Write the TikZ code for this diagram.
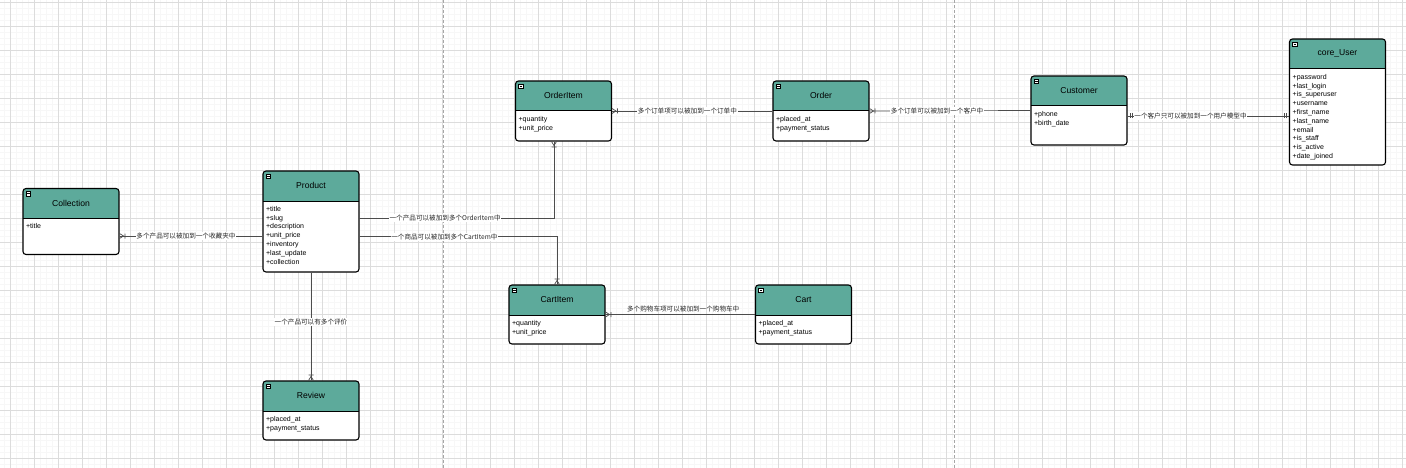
\documentclass[tikz,border=0pt]{standalone}
\usepackage{fontspec}
\setmainfont{Liberation Sans}
\newfontfamily\cjk{Noto Sans CJK SC}
\definecolor{headfill}{HTML}{5DAA9B}
\definecolor{gridmajor}{HTML}{DCDCDC}
\definecolor{gridminor}{HTML}{F7F7F7}

\begin{document}
\begin{tikzpicture}[x=1pt, y=-1pt,
  entity/.style={draw, rounded corners=3pt, line width=1.1pt, fill=white,
    minimum width=96pt, inner sep=0pt,
    path picture={
      \fill[headfill, sharp corners] (path picture bounding box.north west) rectangle ([yshift=-30pt]path picture bounding box.north east);
      \draw[line width=1pt, sharp corners] ([yshift=-30pt]path picture bounding box.north west) -- ([yshift=-30pt]path picture bounding box.north east);
      \draw[fill=white, line width=0.4pt, sharp corners] ([xshift=3pt,yshift=-3pt]path picture bounding box.north west) rectangle ++(4.5pt,-4.5pt);
      \draw[line width=0.6pt] ([xshift=4pt,yshift=-5.25pt]path picture bounding box.north west) -- ++(2.5pt,0pt);
    }},
  enttitle/.style={inner sep=0pt, font=\fontsize{8.6}{10}\selectfont},
  attrs/.style={anchor=north west, align=left, inner sep=0pt, font=\fontsize{7}{8.8}\selectfont},
  conn/.style={draw=black!70, line width=0.7pt},
  rel/.style={font=\cjk\fontsize{6.6}{8}\selectfont, fill=white, inner sep=0.8pt, text=black!85},
  many/.pic={\draw[conn] (0pt,2.5pt) -- (4pt,0pt) -- (0pt,-2.5pt) (5.5pt,2.5pt) -- (5.5pt,-2.5pt);},
  one/.pic={\draw[conn] (2.5pt,2.5pt) -- (2.5pt,-2.5pt) (4.5pt,2.5pt) -- (4.5pt,-2.5pt);}
]
\useasboundingbox (0,0) rectangle (1406,468);

% background grid
\foreach \gx in {4,10,...,1406} \draw[gridminor, line width=0.4pt] (\gx,0) -- (\gx,468);
\foreach \gy in {2,8,...,468} \draw[gridminor, line width=0.4pt] (0,\gy) -- (1406,\gy);
\foreach \gx in {10,34,...,1406} \draw[gridmajor, line width=0.5pt] (\gx,0) -- (\gx,468);
\foreach \gy in {2,26,...,468} \draw[gridmajor, line width=0.5pt] (0,\gy) -- (1406,\gy);
\draw[black!35, dash pattern=on 3pt off 2pt, line width=0.6pt] (443,0) -- (443,468);
\draw[black!35, dash pattern=on 3pt off 2pt, line width=0.6pt] (954,0) -- (954,468);

% entities
\node[entity, minimum height=66pt] (collection) at (71,221.5) {};
\node[enttitle] (collection-title) at ([yshift=-15pt]collection.north) {Collection};
\node[attrs] (collection-attrs) at ([xshift=3.5pt,yshift=-35.5pt]collection.north west) {+title};

\node[entity, minimum height=101pt] (product) at (311,221.5) {};
\node[enttitle] (product-title) at ([yshift=-15pt]product.north) {Product};
\node[attrs] (product-attrs) at ([xshift=3.5pt,yshift=-35.5pt]product.north west)
  {+title\\+slug\\+description\\+unit\_price\\+inventory\\+last\_update\\+collection};

\node[entity, minimum height=60pt] (orderitem) at (563.5,111) {};
\node[enttitle] (orderitem-title) at ([yshift=-15pt]orderitem.north) {OrderItem};
\node[attrs] (orderitem-attrs) at ([xshift=3.5pt,yshift=-35.5pt]orderitem.north west) {+quantity\\+unit\_price};

\node[entity, minimum height=60pt] (order) at (821,111) {};
\node[enttitle] (order-title) at ([yshift=-15pt]order.north) {Order};
\node[attrs] (order-attrs) at ([xshift=3.5pt,yshift=-35.5pt]order.north west) {+placed\_at\\+payment\_status};

\node[entity, minimum height=69pt] (customer) at (1079,110.5) {};
\node[enttitle] (customer-title) at ([yshift=-15pt]customer.north) {Customer};
\node[attrs] (customer-attrs) at ([xshift=3.5pt,yshift=-35.5pt]customer.north west) {+phone\\+birth\_date};

\node[entity, minimum height=126pt] (coreuser) at (1337.5,102) {};
\node[enttitle] (coreuser-title) at ([yshift=-15pt]coreuser.north) {core\_User};
\node[attrs] (coreuser-attrs) at ([xshift=3.5pt,yshift=-35.5pt]coreuser.north west)
  {+password\\+last\_login\\+is\_superuser\\+username\\+first\_name\\+last\_name\\+email\\+is\_staff\\+is\_active\\+date\_joined};

\node[entity, minimum height=59pt] (cartitem) at (557,314.5) {};
\node[enttitle] (cartitem-title) at ([yshift=-15pt]cartitem.north) {CartItem};
\node[attrs] (cartitem-attrs) at ([xshift=3.5pt,yshift=-35.5pt]cartitem.north west) {+quantity\\+unit\_price};

\node[entity, minimum height=59pt] (cart) at (803.5,314.5) {};
\node[enttitle] (cart-title) at ([yshift=-15pt]cart.north) {Cart};
\node[attrs] (cart-attrs) at ([xshift=3.5pt,yshift=-35.5pt]cart.north west) {+placed\_at\\+payment\_status};

\node[entity, minimum height=59pt] (review) at (311,410.5) {};
\node[enttitle] (review-title) at ([yshift=-15pt]review.north) {Review};
\node[attrs] (review-attrs) at ([xshift=3.5pt,yshift=-35.5pt]review.north west) {+placed\_at\\+payment\_status};

% relations
\draw[conn] ([yshift=-14.5pt]collection.east) -- node[rel, pos=0.465] {多个产品可以被加到一个收藏夹中} ([yshift=-14.5pt]product.west);
\draw[conn] ([yshift=3.5pt]product.east) -| node[rel, pos=0.22] {一个产品可以被加到多个OrderItem中} ([xshift=-9.5pt]orderitem.south);
\draw[conn] ([yshift=-15.2pt]product.east) -| node[rel, pos=0.215] {一个商品可以被加到多个CartItem中} (cartitem.north);
\draw[conn] (orderitem.east) -- node[rel, pos=0.47] {多个订单项可以被加到一个订单中} (order.west);
\draw[conn] (order.east) -- node[rel, pos=0.42] {多个订单可以被加到一个客户中} (customer.west);
\draw[conn] ([yshift=-5.5pt]customer.east) -- node[rel, pos=0.39] {一个客户只可以被加到一个用户模型中} ([yshift=-5.5pt]customer.east -| coreuser.west);
\draw[conn] (cartitem.east) -- node[rel, pos=0.52, above, fill=none, yshift=1pt] {多个购物车项可以被加到一个购物车中} (cart.west);
\draw[conn] (product.south) -- node[rel, pos=0.456] {一个产品可以有多个评价} (review.north);

% end marks
\pic at ([yshift=-14.5pt]collection.east) {many};
\pic[rotate=-90] at ([xshift=-9.5pt]orderitem.south) {many};
\pic[rotate=90] at (cartitem.north) {many};
\pic at (orderitem.east) {many};
\pic at (order.east) {many};
\pic at (cartitem.east) {many};
\pic[rotate=90] at (review.north) {many};
\pic at ([yshift=-5.5pt]customer.east) {one};
\pic[rotate=180] at ([yshift=-5.5pt]customer.east -| coreuser.west) {one};
\end{tikzpicture}
\end{document}
